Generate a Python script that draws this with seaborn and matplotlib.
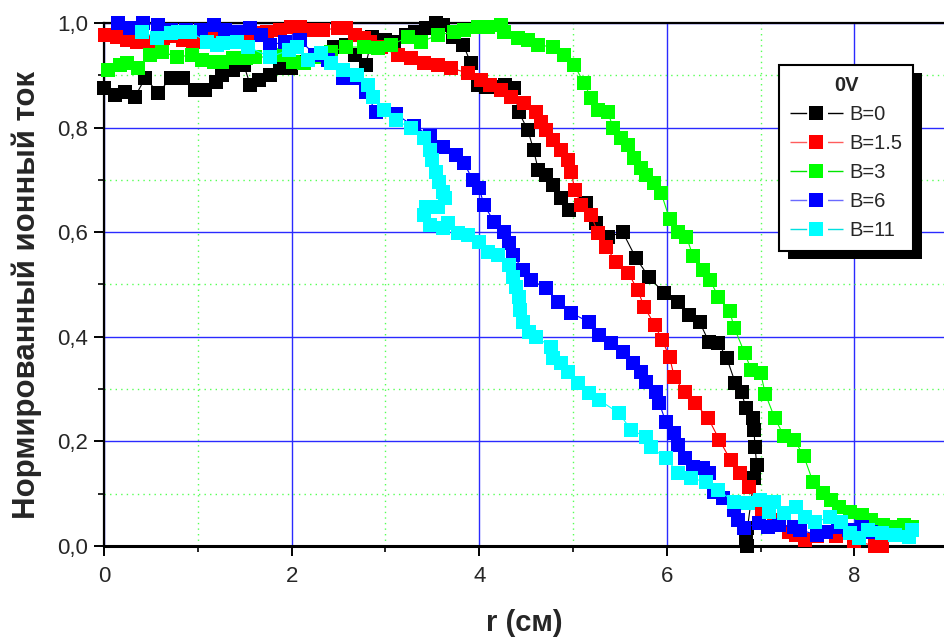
import matplotlib
matplotlib.use("Agg")
import matplotlib.pyplot as plt
from matplotlib.lines import Line2D
from matplotlib.patches import Rectangle
from matplotlib.ticker import MultipleLocator, FuncFormatter
import seaborn as sns

# Radial profiles of the normalised ion current at 0 V bias for several magnetic fields
r_b0 = [0.00, 0.12, 0.22, 0.33, 0.44, 0.58, 0.71, 0.84, 0.97, 1.08, 1.19, 1.26, 1.37, 1.49,
        1.56, 1.65, 1.77, 1.88, 1.99, 2.09, 2.25, 2.45, 2.58, 2.68, 2.79, 2.86, 3.00, 3.09,
        3.22, 3.32, 3.43, 3.54, 3.61, 3.72, 3.83, 3.91, 3.99, 4.07, 4.18, 4.28, 4.37, 4.42,
        4.52, 4.58, 4.63, 4.71, 4.79, 4.87, 4.96, 5.14, 5.25, 5.37, 5.53, 5.67, 5.81, 5.97,
        6.12, 6.24, 6.35, 6.45, 6.55, 6.64, 6.73, 6.80, 6.84, 6.92, 6.93, 6.94, 6.96, 6.93,
        6.86, 6.84, 6.85]
i_b0 = [0.876, 0.862, 0.868, 0.859, 0.895, 0.866, 0.895, 0.895, 0.872, 0.872, 0.887, 0.901,
        0.910, 0.920, 0.881, 0.891, 0.901, 0.914, 0.914, 0.925, 0.939, 0.954, 0.958, 0.939,
        0.920, 0.973, 0.967, 0.964, 0.977, 0.983, 0.990, 1.000, 0.996, 0.973, 0.958, 0.924,
        0.881, 0.878, 0.878, 0.881, 0.876, 0.830, 0.795, 0.757, 0.719, 0.709, 0.690, 0.665,
        0.642, 0.656, 0.618, 0.591, 0.600, 0.551, 0.514, 0.484, 0.467, 0.442, 0.428, 0.390,
        0.388, 0.359, 0.312, 0.294, 0.264, 0.245, 0.222, 0.189, 0.155, 0.130, 0.034, 0.011,
        0.000]

r_b15 = [0.01, 0.14, 0.25, 0.35, 0.49, 0.63, 0.74, 0.84, 0.95, 1.08, 1.21, 1.35, 1.49, 1.61,
         1.74, 1.88, 1.99, 2.09, 2.20, 2.34, 2.49, 2.58, 2.68, 2.77, 2.84, 2.95, 3.13, 3.27,
         3.41, 3.56, 3.70, 3.88, 4.02, 4.12, 4.23, 4.34, 4.48, 4.61, 4.66, 4.71, 4.79, 4.87,
         4.95, 4.98, 5.02, 5.09, 5.19, 5.27, 5.35, 5.46, 5.59, 5.69, 5.76, 5.87, 5.95, 6.03,
         6.08, 6.19, 6.30, 6.44, 6.56, 6.68, 6.78, 6.88, 7.01, 7.14, 7.30, 7.38, 7.47, 7.60,
         7.80, 8.00, 8.22, 8.29]
i_b15 = [0.977, 0.973, 0.967, 0.964, 0.964, 0.971, 0.975, 0.967, 0.964, 0.971, 0.977, 0.981,
         0.981, 0.981, 0.983, 0.987, 0.992, 0.992, 0.987, 0.987, 0.990, 0.990, 0.977, 0.971,
         0.964, 0.954, 0.939, 0.933, 0.924, 0.920, 0.914, 0.904, 0.891, 0.881, 0.872, 0.859,
         0.847, 0.830, 0.811, 0.795, 0.776, 0.757, 0.738, 0.715, 0.681, 0.652, 0.633, 0.598,
         0.572, 0.543, 0.522, 0.489, 0.457, 0.423, 0.394, 0.361, 0.323, 0.294, 0.273, 0.245,
         0.203, 0.164, 0.140, 0.113, 0.065, 0.050, 0.027, 0.021, 0.011, 0.020, 0.020, 0.010,
         0.000, 0.000]

r_b3 = [0.04, 0.17, 0.25, 0.36, 0.49, 0.62, 0.78, 0.94, 1.05, 1.17, 1.26, 1.37, 1.51, 1.61,
        1.77, 1.91, 2.02, 2.13, 2.28, 2.42, 2.58, 2.77, 2.92, 3.06, 3.24, 3.38, 3.56, 3.73,
        3.84, 3.99, 4.09, 4.23, 4.26, 4.41, 4.52, 4.63, 4.79, 4.90, 5.01, 5.12, 5.19, 5.27,
        5.37, 5.43, 5.51, 5.59, 5.65, 5.73, 5.78, 5.86, 5.94, 6.03, 6.12, 6.21, 6.28, 6.39,
        6.46, 6.55, 6.67, 6.72, 6.83, 6.90, 7.00, 7.05, 7.15, 7.25, 7.36, 7.46, 7.56, 7.67,
        7.75, 7.84, 7.95, 8.08, 8.18, 8.31, 8.43, 8.53, 8.61]
i_b3 = [0.910, 0.920, 0.924, 0.914, 0.939, 0.945, 0.935, 0.939, 0.929, 0.925, 0.925, 0.933,
        0.933, 0.935, 0.935, 0.939, 0.925, 0.924, 0.935, 0.945, 0.954, 0.954, 0.952, 0.958,
        0.973, 0.964, 0.977, 0.983, 0.987, 0.992, 0.992, 0.996, 0.983, 0.971, 0.967, 0.958,
        0.954, 0.939, 0.920, 0.885, 0.857, 0.834, 0.830, 0.799, 0.780, 0.767, 0.742, 0.723,
        0.709, 0.694, 0.675, 0.625, 0.600, 0.591, 0.554, 0.528, 0.509, 0.476, 0.449, 0.417,
        0.369, 0.337, 0.331, 0.291, 0.245, 0.210, 0.203, 0.172, 0.122, 0.101, 0.088, 0.075,
        0.065, 0.059, 0.050, 0.040, 0.036, 0.040, 0.036]

r_b6 = [0.15, 0.28, 0.42, 0.58, 0.71, 0.87, 1.03, 1.17, 1.29, 1.42, 1.56, 1.67, 1.77, 1.93,
        2.09, 2.25, 2.39, 2.55, 2.70, 2.79, 2.90, 3.11, 3.30, 3.48, 3.61, 3.75, 3.84, 3.93,
        4.00, 4.05, 4.16, 4.26, 4.32, 4.36, 4.47, 4.55, 4.71, 4.84, 4.98, 5.17, 5.28, 5.41,
        5.53, 5.64, 5.73, 5.78, 5.89, 5.92, 5.99, 6.08, 6.12, 6.19, 6.28, 6.39, 6.45, 6.50,
        6.60, 6.72, 6.76, 6.82, 6.98, 7.08, 7.20, 7.36, 7.42, 7.60, 7.70, 7.83, 7.94, 8.08,
        8.18]
i_b6 = [1.000, 0.990, 1.000, 0.996, 0.987, 0.987, 0.987, 0.996, 0.987, 0.983, 0.990, 0.977,
        0.958, 0.964, 0.967, 0.939, 0.929, 0.895, 0.895, 0.868, 0.830, 0.826, 0.803, 0.784,
        0.763, 0.748, 0.732, 0.700, 0.685, 0.652, 0.620, 0.600, 0.579, 0.556, 0.528, 0.509,
        0.493, 0.467, 0.446, 0.428, 0.403, 0.388, 0.371, 0.350, 0.333, 0.314, 0.294, 0.273,
        0.237, 0.216, 0.193, 0.168, 0.151, 0.149, 0.140, 0.103, 0.092, 0.069, 0.050, 0.034,
        0.044, 0.036, 0.040, 0.036, 0.031, 0.021, 0.027, 0.036, 0.031, 0.036, 0.027]

r_b11 = [0.41, 0.57, 0.71, 0.79, 0.92, 1.10, 1.21, 1.27, 1.42, 1.54, 1.77, 1.97, 2.06, 2.17,
         2.31, 2.42, 2.55, 2.70, 2.81, 2.87, 2.98, 3.11, 3.27, 3.41, 3.48, 3.50, 3.54, 3.57,
         3.61, 3.64, 3.56, 3.43, 3.41, 3.48, 3.61, 3.67, 3.77, 3.88, 4.00, 4.09, 4.20, 4.32,
         4.36, 4.39, 4.42, 4.44, 4.47, 4.53, 4.61, 4.77, 4.79, 4.87, 4.95, 5.05, 5.17, 5.28,
         5.49, 5.62, 5.78, 5.83, 5.99, 6.12, 6.26, 6.42, 6.55, 6.72, 6.87, 6.99, 7.09, 7.14,
         7.25, 7.38, 7.47, 7.58, 7.74, 7.86, 7.95, 8.05, 8.15, 8.29, 8.43, 8.58, 8.61]
i_b11 = [0.983, 0.971, 0.981, 0.983, 0.983, 0.964, 0.958, 0.962, 0.964, 0.954, 0.935, 0.948,
         0.954, 0.929, 0.943, 0.924, 0.910, 0.901, 0.881, 0.859, 0.834, 0.815, 0.799, 0.780,
         0.757, 0.738, 0.715, 0.696, 0.677, 0.665, 0.648, 0.648, 0.633, 0.614, 0.608, 0.618,
         0.598, 0.595, 0.581, 0.562, 0.556, 0.537, 0.514, 0.495, 0.476, 0.451, 0.428, 0.409,
         0.400, 0.380, 0.359, 0.350, 0.333, 0.312, 0.293, 0.279, 0.254, 0.222, 0.208, 0.189,
         0.168, 0.140, 0.130, 0.122, 0.107, 0.084, 0.082, 0.088, 0.065, 0.084, 0.063, 0.075,
         0.055, 0.046, 0.055, 0.046, 0.025, 0.015, 0.031, 0.025, 0.021, 0.017, 0.031]

labels = ["B=0", "B=1.5", "B=3", "B=6", "B=11"]
series = [(r_b0, i_b0), (r_b15, i_b15), (r_b3, i_b3), (r_b6, i_b6), (r_b11, i_b11)]
colors = ["#000000", "#ff0000", "#00ff00", "#0000ff", "#00ffff"]
legend_line_colors = ["#000000", "#ff5c5c", "#00e600", "#6a6aff", "#00e0e0"]

sns.set_style("white")
plt.rcParams["font.family"] = ["Liberation Sans", "DejaVu Sans"]

W, H = 944, 637
fig = plt.figure(figsize=(W / 100, H / 100), dpi=100)
ax = fig.add_axes([104 / W, 91 / H, 840 / W, 523 / H])

for (r, cur), col in zip(series, colors):
    sns.lineplot(x=r, y=cur, ax=ax, sort=False, estimator=None, color=col,
                 linewidth=0.8, marker="s", markersize=10.5, markeredgewidth=0,
                 clip_on=False, legend=False, zorder=3)

ax.set_xlim(0, 840 / 93.8)
ax.set_ylim(0, 1.0)

ax.xaxis.set_major_locator(MultipleLocator(2))
ax.xaxis.set_minor_locator(MultipleLocator(1))
ax.yaxis.set_major_locator(MultipleLocator(0.2))
ax.yaxis.set_minor_locator(MultipleLocator(0.1))
ax.xaxis.set_major_formatter(FuncFormatter(lambda v, _: f"{v:.0f}"))
ax.yaxis.set_major_formatter(FuncFormatter(lambda v, _: f"{v:.1f}".replace(".", ",")))

ax.set_axisbelow(True)
ax.grid(which="major", color="#2a2aff", linewidth=1.0, linestyle="-")
ax.grid(which="minor", color="#55ff55", linewidth=1.0, linestyle=(0, (1, 3)))

for side in ("left", "top"):
    ax.spines[side].set_color("black")
    ax.spines[side].set_linewidth(1.6)
ax.spines["bottom"].set_color("black")
ax.spines["bottom"].set_linewidth(2.2)
ax.spines["right"].set_visible(False)

ax.tick_params(which="major", direction="out", length=7.5, width=1.4, color="black",
               labelsize=16, left=True, bottom=True, top=False, right=False)
ax.tick_params(which="minor", direction="out", length=4, width=1.2, color="black",
               left=True, bottom=True, top=False, right=False)
ax.tick_params(axis="x", which="major", pad=7)
ax.tick_params(axis="y", which="major", pad=4)

ax.set_xlabel("r (см)", fontsize=21, fontweight="bold")
ax.xaxis.set_label_coords(0.5, -0.12)
ax.xaxis.label.set_va("top")
ax.set_ylabel("Нормированный ионный ток", fontsize=22.5, fontweight="bold")
ax.yaxis.set_label_coords(-0.074, 0.48)

handles = [Line2D([], [], color=lc, linewidth=1.0, linestyle=(0, (12, 15)),
                  marker="s", markersize=10, markerfacecolor=c, markeredgewidth=0)
           for c, lc in zip(colors, legend_line_colors)]
leg = ax.legend(handles, labels, title="0V", loc="upper left",
                bbox_to_anchor=(0.8036, 0.9197), borderaxespad=0, fontsize=14.5,
                title_fontproperties={"weight": "bold", "size": 14.5},
                frameon=True, fancybox=False, framealpha=1, edgecolor="black",
                handlelength=38 / 14.5, handletextpad=0.3, labelspacing=0.5,
                borderpad=0.55)
leg.get_frame().set_linewidth(1.5)
leg.set_zorder(6)

# solid drop shadow offset down-right behind the legend box
fig.canvas.draw()
bb = leg.get_window_extent()
inv = ax.transAxes.inverted()
(x0, y0) = inv.transform((bb.x0 + 9, bb.y0 - 8))
(x1, y1) = inv.transform((bb.x1 + 9, bb.y1 - 8))
ax.add_patch(Rectangle((x0, y0), x1 - x0, y1 - y0, transform=ax.transAxes,
                       facecolor="black", edgecolor="none", clip_on=False, zorder=5))

fig.savefig("out.png", dpi=100)
